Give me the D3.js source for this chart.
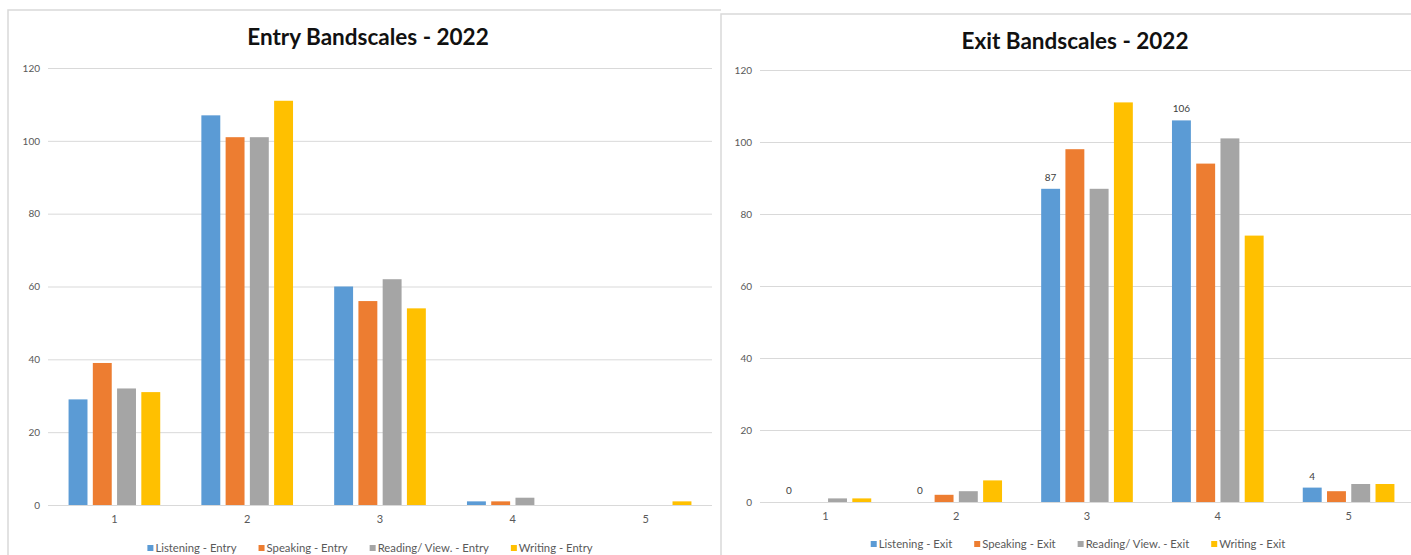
<!DOCTYPE html>
<html>
<head>
<meta charset="utf-8">
<script src="https://cdn.jsdelivr.net/npm/d3@7"></script>
<style>
  body { margin: 0; background: #fff; }
  text { font-family: Lato, "Open Sans", sans-serif; }
</style>
</head>
<body>
<div id="d3-container"></div>
<script>
const categories = ['1', '2', '3', '4', '5'];
const skills = ['Listening', 'Speaking', 'Reading/ View.', 'Writing'];
const colors = ['#5B9BD5', '#ED7D31', '#A5A5A5', '#FFC000'];
const yTicks = [0, 20, 40, 60, 80, 100, 120];

// values per skill, one entry per category
const entryListening = [29, 107, 60, 1, 0];
const entrySpeaking = [39, 101, 56, 1, 0];
const entryReading = [32, 101, 62, 2, 0];
const entryWriting = [31, 111, 54, 0, 1];

const exitListening = [0, 0, 87, 106, 4];
const exitSpeaking = [0, 2, 98, 94, 3];
const exitReading = [1, 3, 87, 101, 5];
const exitWriting = [1, 6, 111, 74, 5];

const width = 1411;
const height = 555;

const svg = d3.select('#d3-container')
  .append('svg')
  .attr('width', width)
  .attr('height', height);

svg.append('rect').attr('width', width).attr('height', height).attr('fill', '#fff');

function drawChart(opts) {
  const g = svg.append('g');
  const series = opts.series;

  // panel border (top + left)
  g.append('path')
    .attr('d', `M${opts.panel[0]},${height} V${opts.panel[1]} H${opts.panel[2]}`)
    .attr('fill', 'none')
    .attr('stroke', '#d9d9d9')
    .attr('stroke-width', 1.5);

  const x0 = d3.scaleBand()
    .domain(categories)
    .range([opts.left, opts.right]);

  const off = (x0.bandwidth() - 97) / 2;
  const x1 = d3.scaleBand()
    .domain(d3.range(series.length))
    .range([off, x0.bandwidth() - off])
    .paddingInner(0.22)
    .paddingOuter(0.11);

  const y = d3.scaleLinear()
    .domain([0, 120])
    .range([opts.bottom, opts.top]);

  // gridlines
  g.append('g')
    .selectAll('line')
    .data(yTicks)
    .join('line')
      .attr('x1', opts.left)
      .attr('x2', opts.right)
      .attr('y1', d => y(d) + 0.5)
      .attr('y2', d => y(d) + 0.5)
      .attr('stroke', '#d9d9d9')
      .attr('stroke-width', 1);

  // y axis labels
  const yAxis = g.append('g')
    .attr('transform', `translate(${opts.left - 8},0)`)
    .call(d3.axisLeft(y).tickValues(yTicks).tickSize(0).tickPadding(0));
  yAxis.select('.domain').remove();
  yAxis.selectAll('text')
    .attr('fill', '#595959')
    .attr('font-size', '10px')
    .attr('font-family', 'Lato, sans-serif');

  // x axis labels
  const xAxis = g.append('g')
    .attr('transform', `translate(0,${opts.bottom})`)
    .call(d3.axisBottom(x0).tickSize(0).tickPadding(10));
  xAxis.select('.domain').remove();
  xAxis.selectAll('text')
    .attr('fill', '#595959')
    .attr('font-size', '11px')
    .attr('font-family', 'Lato, sans-serif');

  // bars
  const groups = g.append('g')
    .selectAll('g')
    .data(categories)
    .join('g')
      .attr('transform', d => `translate(${x0(d)},0)`);

  groups.selectAll('rect')
    .data((c, ci) => series.map((s, si) => ({ si, v: s.values[ci] })))
    .join('rect')
      .attr('x', d => x1(d.si))
      .attr('y', d => y(d.v))
      .attr('width', x1.bandwidth())
      .attr('height', d => y(0) - y(d.v))
      .attr('fill', d => colors[d.si]);

  // data labels on first series
  groups.append('text')
    .attr('x', x1(0) + x1.bandwidth() / 2)
    .attr('y', (c, ci) => y(series[0].values[ci]) - 8)
    .attr('text-anchor', 'middle')
    .attr('font-size', '10px')
    .attr('fill', '#404040')
    .attr('display', opts.labels ? null : 'none')
    .text((c, ci) => series[0].values[ci]);

  // title
  g.append('text')
    .attr('x', opts.titleX)
    .attr('y', opts.titleY)
    .attr('text-anchor', 'middle')
    .attr('font-size', '22.5px')
    .attr('font-weight', 'bold')
    .attr('fill', '#111')
    .text(opts.title);

  // legend
  const leg = g.append('g').attr('transform', `translate(0,${opts.legendY})`);
  let lx = 0;
  series.forEach((s, i) => {
    const item = leg.append('g').attr('transform', `translate(${lx},0)`);
    item.append('rect')
      .attr('x', 0).attr('y', -7)
      .attr('width', 6).attr('height', 6)
      .attr('fill', colors[i]);
    const t = item.append('text')
      .attr('x', 8)
      .attr('y', 0)
      .attr('font-size', '11.3px')
      .attr('fill', '#595959')
      .text(s.name);
    lx += 8 + t.node().getComputedTextLength() + 22;
  });
  lx -= 22;
  leg.attr('transform', `translate(${opts.legendX - lx / 2},${opts.legendY})`);
}

drawChart({
  title: 'Entry Bandscales - 2022',
  titleX: 368, titleY: 45,
  panel: [8, 10, 721],
  left: 48, right: 712, top: 68, bottom: 505,
  legendX: 370, legendY: 552,
  labels: false,
  series: [
    { name: skills[0] + ' - Entry', values: entryListening },
    { name: skills[1] + ' - Entry', values: entrySpeaking },
    { name: skills[2] + ' - Entry', values: entryReading },
    { name: skills[3] + ' - Entry', values: entryWriting },
  ]
});

drawChart({
  title: 'Exit Bandscales - 2022',
  titleX: 1075, titleY: 49,
  panel: [721, 14, 1411],
  left: 760, right: 1414, top: 70, bottom: 502,
  legendX: 1078, legendY: 548,
  labels: true,
  series: [
    { name: skills[0] + ' - Exit', values: exitListening },
    { name: skills[1] + ' - Exit', values: exitSpeaking },
    { name: skills[2] + ' - Exit', values: exitReading },
    { name: skills[3] + ' - Exit', values: exitWriting },
  ]
});
</script>
</body>
</html>
